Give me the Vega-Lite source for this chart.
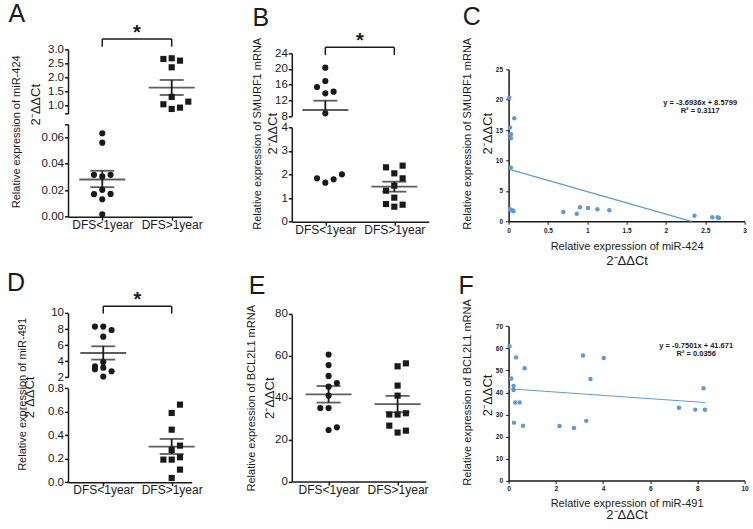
{
"$schema":"https://vega.github.io/schema/vega-lite/v6.json",
"autosize":{"type":"none"},
"padding":{"left":68,"top":49.3,"right":685,"bottom":479.7},
"config":{
 "view":{"stroke":null},
 "font":"Liberation Sans",
 "axis":{"grid":false,"domainColor":"#1a1a1a","tickColor":"#1a1a1a","labelColor":"#1a1a1a","titleColor":"#1a1a1a","labelFont":"Liberation Sans","titleFont":"Liberation Sans","titleFontWeight":"normal","labelFlush":false,"labelOverlap":false},
 "title":{"font":"Liberation Sans","fontWeight":"normal","color":"#1a1a1a"},
 "text":{"font":"Liberation Sans","color":"#1a1a1a"}
},
"datasets":{
 "A_pts":[
  {"group":"DFS<1year","v":0.0630,"slot":0},{"group":"DFS<1year","v":0.0559,"slot":0},{"group":"DFS<1year","v":0.0316,"slot":-1},{"group":"DFS<1year","v":0.0304,"slot":0},{"group":"DFS<1year","v":0.0316,"slot":1},{"group":"DFS<1year","v":0.0170,"slot":-1},{"group":"DFS<1year","v":0.0203,"slot":0},{"group":"DFS<1year","v":0.0172,"slot":1},{"group":"DFS<1year","v":0.0132,"slot":0},{"group":"DFS<1year","v":0.0018,"slot":0},
  {"group":"DFS>1year","v":2.655,"slot":-1},{"group":"DFS>1year","v":2.679,"slot":0},{"group":"DFS>1year","v":2.595,"slot":1},{"group":"DFS>1year","v":2.357,"slot":0},{"group":"DFS>1year","v":1.298,"slot":0},{"group":"DFS>1year","v":1.036,"slot":-1},{"group":"DFS>1year","v":0.869,"slot":0},{"group":"DFS>1year","v":0.917,"slot":1},{"group":"DFS>1year","v":1.131,"slot":2}
 ],
 "A_sum":[{"group":"DFS<1year","mean":0.0281,"lo":0.0223,"hi":0.0347},{"group":"DFS>1year","mean":1.631,"lo":1.369,"hi":1.905}],
 "B_pts":[
  {"group":"DFS<1year","v":20.34,"slot":0},{"group":"DFS<1year","v":16.94,"slot":0},{"group":"DFS<1year","v":15.40,"slot":-1},{"group":"DFS<1year","v":14.21,"slot":1},{"group":"DFS<1year","v":13.79,"slot":0},{"group":"DFS<1year","v":8.68,"slot":0},{"group":"DFS<1year","v":1.837,"slot":-1},{"group":"DFS<1year","v":1.654,"slot":0},{"group":"DFS<1year","v":1.795,"slot":1},{"group":"DFS<1year","v":2.007,"slot":2},
  {"group":"DFS>1year","v":2.304,"slot":-1},{"group":"DFS>1year","v":2.375,"slot":1},{"group":"DFS>1year","v":2.049,"slot":0},{"group":"DFS>1year","v":1.837,"slot":1},{"group":"DFS>1year","v":1.314,"slot":-1},{"group":"DFS>1year","v":1.527,"slot":0},{"group":"DFS>1year","v":1.018,"slot":0},{"group":"DFS>1year","v":0.749,"slot":-1},{"group":"DFS>1year","v":0.636,"slot":0},{"group":"DFS>1year","v":0.721,"slot":1}
 ],
 "B_sum":[{"group":"DFS<1year","mean":9.53,"lo":7.15,"hi":11.91},{"group":"DFS>1year","mean":1.484,"lo":1.272,"hi":1.696}],
 "D_pts":[
  {"group":"DFS<1year","v":8.30,"slot":-1},{"group":"DFS<1year","v":8.30,"slot":0},{"group":"DFS<1year","v":7.88,"slot":1},{"group":"DFS<1year","v":7.05,"slot":0},{"group":"DFS<1year","v":3.90,"slot":0},{"group":"DFS<1year","v":3.35,"slot":-1},{"group":"DFS<1year","v":3.20,"slot":0},{"group":"DFS<1year","v":3.00,"slot":-1},{"group":"DFS<1year","v":2.75,"slot":1},{"group":"DFS<1year","v":2.10,"slot":0},
  {"group":"DFS>1year","v":0.661,"slot":1},{"group":"DFS>1year","v":0.590,"slot":0},{"group":"DFS>1year","v":0.448,"slot":0},{"group":"DFS>1year","v":0.312,"slot":1},{"group":"DFS>1year","v":0.275,"slot":0},{"group":"DFS>1year","v":0.193,"slot":-1},{"group":"DFS>1year","v":0.193,"slot":0},{"group":"DFS>1year","v":0.213,"slot":1},{"group":"DFS>1year","v":0.108,"slot":1},{"group":"DFS>1year","v":0.037,"slot":0}
 ],
 "D_sum":[{"group":"DFS<1year","mean":5.02,"lo":4.2,"hi":5.85},{"group":"DFS>1year","mean":0.304,"lo":0.241,"hi":0.369}],
 "E_pts":[
  {"group":"DFS<1year","v":60.6,"slot":0},{"group":"DFS<1year","v":55.6,"slot":0},{"group":"DFS<1year","v":50.4,"slot":0},{"group":"DFS<1year","v":47.0,"slot":1},{"group":"DFS<1year","v":45.3,"slot":0},{"group":"DFS<1year","v":41.0,"slot":0},{"group":"DFS<1year","v":35.1,"slot":-1},{"group":"DFS<1year","v":35.1,"slot":0},{"group":"DFS<1year","v":24.6,"slot":0},{"group":"DFS<1year","v":25.9,"slot":1},
  {"group":"DFS>1year","v":55.0,"slot":0},{"group":"DFS>1year","v":56.4,"slot":1},{"group":"DFS>1year","v":45.8,"slot":0},{"group":"DFS>1year","v":41.0,"slot":0},{"group":"DFS>1year","v":32.0,"slot":-1},{"group":"DFS>1year","v":32.0,"slot":0},{"group":"DFS>1year","v":32.6,"slot":1},{"group":"DFS>1year","v":26.7,"slot":-1},{"group":"DFS>1year","v":23.4,"slot":0},{"group":"DFS>1year","v":24.3,"slot":1}
 ],
 "E_sum":[{"group":"DFS<1year","mean":41.65,"lo":37.7,"hi":45.6},{"group":"DFS>1year","mean":37.0,"lo":33.1,"hi":40.9}],
 "pair":[{"group":"DFS<1year","group2":"DFS>1year"}],
 "C_pts":[{"mir":0.008,"smurf":20.34},{"mir":0.072,"smurf":16.94},{"mir":0.017,"smurf":15.41},{"mir":0.030,"smurf":14.31},{"mir":0.030,"smurf":13.65},{"mir":0.030,"smurf":8.83},{"mir":0.018,"smurf":2.0},{"mir":0.032,"smurf":1.84},{"mir":0.045,"smurf":1.80},{"mir":0.062,"smurf":1.65},{"mir":0.696,"smurf":1.54},{"mir":0.866,"smurf":1.26},{"mir":0.908,"smurf":2.30},{"mir":1.010,"smurf":2.19},{"mir":1.128,"smurf":1.97},{"mir":1.280,"smurf":1.81},{"mir":2.363,"smurf":0.93},{"mir":2.588,"smurf":0.66},{"mir":2.656,"smurf":0.66},{"mir":2.673,"smurf":0.55}],
 "F_pts":[{"mir":0.04,"bcl":60.9},{"mir":0.32,"bcl":55.9},{"mir":0.68,"bcl":51.0},{"mir":0.11,"bcl":46.3},{"mir":0.21,"bcl":42.9},{"mir":0.21,"bcl":41.1},{"mir":0.28,"bcl":35.4},{"mir":0.47,"bcl":35.4},{"mir":0.23,"bcl":26.3},{"mir":0.61,"bcl":24.9},{"mir":2.16,"bcl":24.8},{"mir":2.77,"bcl":23.9},{"mir":3.15,"bcl":56.8},{"mir":3.29,"bcl":27.1},{"mir":3.47,"bcl":46.1},{"mir":4.03,"bcl":55.6},{"mir":7.22,"bcl":33.0},{"mir":7.91,"bcl":32.2},{"mir":8.26,"bcl":41.9},{"mir":8.32,"bcl":32.1}]
},
"columns":3,
"align":"each",
"bounds":"flush",
"spacing":{"row":90.6,"column":79.8},
"concat":[
 {"title":{"text":"A","anchor":"start","frame":"bounds","fontSize":25,"offset":-4,"dx":-2},
  "width":143.7,"height":167.4,
  "encoding":{"x":{"field":"group","type":"nominal","scale":{"type":"point","domain":["DFS<1year","DFS>1year"],"range":[0,124],"padding":0.393,"align":0.628},"axis":{"title":null,"labelAngle":0,"labelFontSize":12,"labelPadding":-1,"tickSize":3.5,"tickWidth":1.5,"domainWidth":1.5}}},
  "resolve":{"scale":{"y":"independent"},"axis":{"y":"independent"}},
  "layer":[
    {"data":{"name":"A_pts"},"transform":[{"filter":"datum.v <= 0.07"}],"mark":{"type":"point","filled":true,"opacity":1,"color":"#1a1a1a","size":38,"strokeWidth":0},
     "encoding":{"y":{"field":"v","type":"quantitative","scale":{"domain":[0,0.07],"range":[167.4,74.7],"nice":false,"zero":false},"axis":{"orient":"left","values":[0,0.02,0.04,0.06,0.07],"labelExpr":"datum.value > 0.065 ? '' : format(datum.value, '.2f')","title":"Relative expression of miR-424","titleFontSize":11,"titleY":82,"titlePadding":19.5,"labelFontSize":11.5,"tickSize":3.5,"tickWidth":1.5,"domainWidth":1.5,"labelPadding":1}},
      "xOffset":{"field":"slot","type":"quantitative","scale":{"domain":[-2,2],"range":[-16.6,16.6]}},
      "shape":{"field":"group","type":"nominal","scale":{"domain":["DFS<1year","DFS>1year"],"range":["circle","square"]},"legend":null}}},
    {"data":{"name":"A_sum"},"transform":[{"filter":"datum.mean <= 0.07"}],"mark":{"type":"tick","orient":"horizontal","size":46,"thickness":1.8,"color":"#1a1a1a"},"encoding":{"y":{"field":"mean","type":"quantitative","scale":{"domain":[0,0.07],"range":[167.4,74.7],"nice":false,"zero":false},"axis":null}}},
    {"data":{"name":"A_sum"},"transform":[{"filter":"datum.mean <= 0.07"}],"mark":{"type":"tick","orient":"horizontal","size":24,"thickness":1.8,"color":"#1a1a1a"},"encoding":{"y":{"field":"lo","type":"quantitative","scale":{"domain":[0,0.07],"range":[167.4,74.7],"nice":false,"zero":false},"axis":null}}},
    {"data":{"name":"A_sum"},"transform":[{"filter":"datum.mean <= 0.07"}],"mark":{"type":"tick","orient":"horizontal","size":24,"thickness":1.8,"color":"#1a1a1a"},"encoding":{"y":{"field":"hi","type":"quantitative","scale":{"domain":[0,0.07],"range":[167.4,74.7],"nice":false,"zero":false},"axis":null}}},
    {"data":{"name":"A_sum"},"transform":[{"filter":"datum.mean <= 0.07"}],"mark":{"type":"rule","strokeWidth":1.8,"color":"#1a1a1a"},"encoding":{"y":{"field":"lo","type":"quantitative","scale":{"domain":[0,0.07],"range":[167.4,74.7],"nice":false,"zero":false},"axis":null},"y2":{"field":"hi"}}},
    {"data":{"name":"A_pts"},"transform":[{"filter":"datum.v >= 0.7"}],"mark":{"type":"point","filled":true,"opacity":1,"color":"#1a1a1a","size":38,"strokeWidth":0},
     "encoding":{"y":{"field":"v","type":"quantitative","scale":{"domain":[0.7,3.0],"range":[64.4,0],"nice":false,"zero":false},"axis":{"orient":"left","values":[0.7,1,1.5,2,2.5,3],"labelExpr":"datum.value < 0.8 ? '' : format(datum.value, '.1f')","title":"2⁻ΔΔCt","titleFontSize":13,"titleY":55,"titlePadding":5,"labelFontSize":11.5,"tickSize":3.5,"tickWidth":1.5,"domainWidth":1.5,"labelPadding":1}},
      "xOffset":{"field":"slot","type":"quantitative","scale":{"domain":[-2,2],"range":[-16.6,16.6]}},
      "shape":{"field":"group","type":"nominal","scale":{"domain":["DFS<1year","DFS>1year"],"range":["circle","square"]},"legend":null}}},
    {"data":{"name":"A_sum"},"transform":[{"filter":"datum.mean >= 0.7"}],"mark":{"type":"tick","orient":"horizontal","size":46,"thickness":1.8,"color":"#1a1a1a"},"encoding":{"y":{"field":"mean","type":"quantitative","scale":{"domain":[0.7,3.0],"range":[64.4,0],"nice":false,"zero":false},"axis":null}}},
    {"data":{"name":"A_sum"},"transform":[{"filter":"datum.mean >= 0.7"}],"mark":{"type":"tick","orient":"horizontal","size":24,"thickness":1.8,"color":"#1a1a1a"},"encoding":{"y":{"field":"lo","type":"quantitative","scale":{"domain":[0.7,3.0],"range":[64.4,0],"nice":false,"zero":false},"axis":null}}},
    {"data":{"name":"A_sum"},"transform":[{"filter":"datum.mean >= 0.7"}],"mark":{"type":"tick","orient":"horizontal","size":24,"thickness":1.8,"color":"#1a1a1a"},"encoding":{"y":{"field":"hi","type":"quantitative","scale":{"domain":[0.7,3.0],"range":[64.4,0],"nice":false,"zero":false},"axis":null}}},
    {"data":{"name":"A_sum"},"transform":[{"filter":"datum.mean >= 0.7"}],"mark":{"type":"rule","strokeWidth":1.8,"color":"#1a1a1a"},"encoding":{"y":{"field":"lo","type":"quantitative","scale":{"domain":[0.7,3.0],"range":[64.4,0],"nice":false,"zero":false},"axis":null},"y2":{"field":"hi"}}},
    {"data":{"name":"A_sum"},"mark":{"type":"rule","strokeWidth":1.5,"color":"#1a1a1a"},"encoding":{"y":{"datum":3.368,"type":"quantitative","scale":{"domain":[0.7,3.0],"range":[64.4,0],"nice":false,"zero":false},"axis":null},"y2":{"datum":3.093}}},
    {"data":{"name":"pair"},"mark":{"type":"rule","strokeWidth":1.5,"color":"#1a1a1a"},"encoding":{"x2":{"field":"group2"},"y":{"datum":3.368,"type":"quantitative","scale":{"domain":[0.7,3.0],"range":[64.4,0],"nice":false,"zero":false},"axis":null}}},
    {"data":{"name":"pair"},"mark":{"type":"text","text":"*","fontSize":20,"fontWeight":"bold","dx":34.7,"baseline":"alphabetic","align":"center","color":"#1a1a1a"},"encoding":{"y":{"datum":3.368,"type":"quantitative","scale":{"domain":[0.7,3.0],"range":[64.4,0],"nice":false,"zero":false},"axis":null}}}
  ]
 },
 {"title":{"text":"B","anchor":"start","frame":"bounds","fontSize":25,"offset":0,"dx":1},
  "width":137,"height":172.4,
  "encoding":{"x":{"field":"group","type":"nominal","scale":{"type":"point","domain":["DFS<1year","DFS>1year"],"range":[0,137],"padding":0.493,"align":0.493},"axis":{"title":null,"labelAngle":0,"labelFontSize":12,"labelPadding":-1,"tickSize":3.5,"tickWidth":1.5,"domainWidth":1.5}}},
  "resolve":{"scale":{"y":"independent"},"axis":{"y":"independent"}},
  "layer":[
    {"data":{"name":"B_pts"},"transform":[{"filter":"datum.v <= 4"}],"mark":{"type":"point","filled":true,"opacity":1,"color":"#1a1a1a","size":38,"strokeWidth":0},
     "encoding":{"y":{"field":"v","type":"quantitative","scale":{"domain":[0,4],"range":[172.4,78],"nice":false,"zero":false},"axis":{"orient":"left","values":[0,1,2,3,4],"format":"d","title":"2⁻ΔΔCt","titleFontSize":13,"titleY":84,"titlePadding":1,"labelFontSize":11.5,"tickSize":3.5,"tickWidth":1.5,"domainWidth":1.5,"labelPadding":1}},
      "xOffset":{"field":"slot","type":"quantitative","scale":{"domain":[-2,2],"range":[-16.6,16.6]}},
      "shape":{"field":"group","type":"nominal","scale":{"domain":["DFS<1year","DFS>1year"],"range":["circle","square"]},"legend":null}}},
    {"data":{"name":"B_sum"},"transform":[{"filter":"datum.mean <= 4"}],"mark":{"type":"tick","orient":"horizontal","size":46,"thickness":1.8,"color":"#1a1a1a"},"encoding":{"y":{"field":"mean","type":"quantitative","scale":{"domain":[0,4],"range":[172.4,78],"nice":false,"zero":false},"axis":null}}},
    {"data":{"name":"B_sum"},"transform":[{"filter":"datum.mean <= 4"}],"mark":{"type":"tick","orient":"horizontal","size":24,"thickness":1.8,"color":"#1a1a1a"},"encoding":{"y":{"field":"lo","type":"quantitative","scale":{"domain":[0,4],"range":[172.4,78],"nice":false,"zero":false},"axis":null}}},
    {"data":{"name":"B_sum"},"transform":[{"filter":"datum.mean <= 4"}],"mark":{"type":"tick","orient":"horizontal","size":24,"thickness":1.8,"color":"#1a1a1a"},"encoding":{"y":{"field":"hi","type":"quantitative","scale":{"domain":[0,4],"range":[172.4,78],"nice":false,"zero":false},"axis":null}}},
    {"data":{"name":"B_sum"},"transform":[{"filter":"datum.mean <= 4"}],"mark":{"type":"rule","strokeWidth":1.8,"color":"#1a1a1a"},"encoding":{"y":{"field":"lo","type":"quantitative","scale":{"domain":[0,4],"range":[172.4,78],"nice":false,"zero":false},"axis":null},"y2":{"field":"hi"}}},
    {"data":{"name":"B_pts"},"transform":[{"filter":"datum.v >= 8"}],"mark":{"type":"point","filled":true,"opacity":1,"color":"#1a1a1a","size":38,"strokeWidth":0},
     "encoding":{"y":{"field":"v","type":"quantitative","scale":{"domain":[8,24],"range":[66.7,4],"nice":false,"zero":false},"axis":{"orient":"left","values":[8,12,16,20,24],"format":"d","title":"Relative expression of SMURF1 mRNA","titleFontSize":11,"titleY":84,"titlePadding":12,"labelFontSize":11.5,"tickSize":3.5,"tickWidth":1.5,"domainWidth":1.5,"labelPadding":1}},
      "xOffset":{"field":"slot","type":"quantitative","scale":{"domain":[-2,2],"range":[-16.6,16.6]}},
      "shape":{"field":"group","type":"nominal","scale":{"domain":["DFS<1year","DFS>1year"],"range":["circle","square"]},"legend":null}}},
    {"data":{"name":"B_sum"},"transform":[{"filter":"datum.mean >= 8"}],"mark":{"type":"tick","orient":"horizontal","size":46,"thickness":1.8,"color":"#1a1a1a"},"encoding":{"y":{"field":"mean","type":"quantitative","scale":{"domain":[8,24],"range":[66.7,4],"nice":false,"zero":false},"axis":null}}},
    {"data":{"name":"B_sum"},"transform":[{"filter":"datum.lo >= 8"}],"mark":{"type":"tick","orient":"horizontal","size":24,"thickness":1.8,"color":"#1a1a1a"},"encoding":{"y":{"field":"lo","type":"quantitative","scale":{"domain":[8,24],"range":[66.7,4],"nice":false,"zero":false},"axis":null}}},
    {"data":{"name":"B_sum"},"transform":[{"filter":"datum.mean >= 8"}],"mark":{"type":"tick","orient":"horizontal","size":24,"thickness":1.8,"color":"#1a1a1a"},"encoding":{"y":{"field":"hi","type":"quantitative","scale":{"domain":[8,24],"range":[66.7,4],"nice":false,"zero":false},"axis":null}}},
    {"data":{"name":"B_sum"},"transform":[{"filter":"datum.mean >= 8"}],"mark":{"type":"rule","strokeWidth":1.8,"color":"#1a1a1a"},"encoding":{"y":{"field":"mean","type":"quantitative","scale":{"domain":[8,24],"range":[66.7,4],"nice":false,"zero":false},"axis":null},"y2":{"field":"hi"}}},
    {"data":{"name":"B_sum"},"mark":{"type":"rule","strokeWidth":1.5,"color":"#1a1a1a"},"encoding":{"y":{"datum":25.53,"type":"quantitative","scale":{"domain":[8,24],"range":[66.7,4],"nice":false,"zero":false},"axis":null},"y2":{"datum":23.57}}},
    {"data":{"name":"pair"},"mark":{"type":"rule","strokeWidth":1.5,"color":"#1a1a1a"},"encoding":{"x2":{"field":"group2"},"y":{"datum":25.53,"type":"quantitative","scale":{"domain":[8,24],"range":[66.7,4],"nice":false,"zero":false},"axis":null}}},
    {"data":{"name":"pair"},"mark":{"type":"text","text":"*","fontSize":20,"fontWeight":"bold","dx":34.5,"baseline":"alphabetic","align":"center","color":"#1a1a1a"},"encoding":{"y":{"datum":25.53,"type":"quantitative","scale":{"domain":[8,24],"range":[66.7,4],"nice":false,"zero":false},"axis":null}}}
  ]
 },
 {"width":236,"height":172,
  "resolve":{"scale":{"x":"independent","y":"independent"},"axis":{"x":"independent","y":"independent"}},
  "layer":[
    {"data":{"name":"C_pts"},"mark":{"type":"point","filled":true,"opacity":1,"color":"#5b9bd5","size":20,"strokeWidth":0},
     "encoding":{
      "x":{"field":"mir","type":"quantitative","scale":{"domain":[0,3],"nice":false,"zero":false},"axis":{"orient":"bottom","values":[0,0.5,1,1.5,2,2.5,3],"format":"~g","labelFontSize":6.5,"labelFontWeight":"bold","tickSize":3,"tickWidth":1,"domainWidth":1.5,"labelPadding":3,"title":"Relative expression of miR-424","titleFontSize":11,"titlePadding":7}},
      "y":{"field":"smurf","type":"quantitative","scale":{"domain":[0,25],"range":[172,20],"nice":false,"zero":false},"axis":{"orient":"left","values":[0,5,10,15,20,25],"labelFontSize":6.5,"labelFontWeight":"bold","tickSize":3,"tickWidth":1,"domainWidth":1.5,"labelPadding":3,"title":"2⁻ΔΔCt","titleFontSize":13,"titlePadding":1,"titleY":84}}}},
    {"data":{"values":[{}]},"mark":{"type":"rule","color":"#5b9bd5","strokeWidth":1.2},"encoding":{"x":{"datum":0,"type":"quantitative","scale":{"domain":[0,3],"nice":false,"zero":false},"axis":null},"x2":{"datum":2.3229},"y":{"datum":8.5799,"type":"quantitative","scale":{"domain":[0,25],"range":[172,20],"nice":false,"zero":false},"axis":null},"y2":{"datum":0}}},
    {"data":{"values":[{}]},"mark":{"type":"text","text":["y = -3.6936x + 8.5799","R² = 0.3117"],"fontSize":7.5,"fontWeight":"bold","lineHeight":8.3,"align":"center","baseline":"middle","color":"#1a1a1a"},
     "encoding":{
      "x":{"datum":2.435,"type":"quantitative","scale":{"domain":[0,3],"nice":false,"zero":false},"axis":{"orient":"bottom","domain":false,"ticks":false,"labels":false,"title":"2⁻ΔΔCt","titleFontSize":13,"titlePadding":33}},
      "y":{"datum":19.43,"type":"quantitative","scale":{"domain":[0,25],"range":[172,20],"nice":false,"zero":false},"axis":{"orient":"left","domain":false,"ticks":false,"labels":false,"title":"Relative expression of SMURF1 mRNA","titleFontSize":11,"titlePadding":36,"titleY":84}}}},
    {"data":{"values":[{}]},"mark":{"type":"text","text":"C","fontSize":25,"align":"center","baseline":"alphabetic","color":"#1a1a1a"},
     "encoding":{
      "x":{"datum":-0.468,"type":"quantitative","scale":{"domain":[0,3],"nice":false,"zero":false},"axis":null},
      "y":{"datum":32.29,"type":"quantitative","scale":{"domain":[0,25],"range":[172,20],"nice":false,"zero":false},"axis":null}}}
  ]
 },
 {"title":{"text":"D","anchor":"start","frame":"bounds","fontSize":25,"offset":-6,"dx":-9},
  "width":143.7,"height":169.4,
  "encoding":{"x":{"field":"group","type":"nominal","scale":{"type":"point","domain":["DFS<1year","DFS>1year"],"range":[0,123.7],"padding":0.404,"align":0.638},"axis":{"title":null,"labelAngle":0,"labelFontSize":12,"labelPadding":-1,"tickSize":3.5,"tickWidth":1.5,"domainWidth":1.5}}},
  "resolve":{"scale":{"y":"independent"},"axis":{"y":"independent"}},
  "layer":[
    {"data":{"name":"D_pts"},"transform":[{"filter":"datum.v <= 0.8"}],"mark":{"type":"point","filled":true,"opacity":1,"color":"#1a1a1a","size":38,"strokeWidth":0},
     "encoding":{"y":{"field":"v","type":"quantitative","scale":{"domain":[0,0.8],"range":[169.4,75.4],"nice":false,"zero":false},"axis":{"orient":"left","values":[0,0.2,0.4,0.6,0.8],"format":".1f","title":"2⁻ΔΔCt","titleFontSize":13,"titleY":84,"titlePadding":11.5,"labelFontSize":11.5,"tickSize":3.5,"tickWidth":1.5,"domainWidth":1.5,"labelPadding":1}},
      "xOffset":{"field":"slot","type":"quantitative","scale":{"domain":[-2,2],"range":[-16.6,16.6]}},
      "shape":{"field":"group","type":"nominal","scale":{"domain":["DFS<1year","DFS>1year"],"range":["circle","square"]},"legend":null}}},
    {"data":{"name":"D_sum"},"transform":[{"filter":"datum.mean <= 0.8"}],"mark":{"type":"tick","orient":"horizontal","size":46,"thickness":1.8,"color":"#1a1a1a"},"encoding":{"y":{"field":"mean","type":"quantitative","scale":{"domain":[0,0.8],"range":[169.4,75.4],"nice":false,"zero":false},"axis":null}}},
    {"data":{"name":"D_sum"},"transform":[{"filter":"datum.mean <= 0.8"}],"mark":{"type":"tick","orient":"horizontal","size":24,"thickness":1.8,"color":"#1a1a1a"},"encoding":{"y":{"field":"lo","type":"quantitative","scale":{"domain":[0,0.8],"range":[169.4,75.4],"nice":false,"zero":false},"axis":null}}},
    {"data":{"name":"D_sum"},"transform":[{"filter":"datum.mean <= 0.8"}],"mark":{"type":"tick","orient":"horizontal","size":24,"thickness":1.8,"color":"#1a1a1a"},"encoding":{"y":{"field":"hi","type":"quantitative","scale":{"domain":[0,0.8],"range":[169.4,75.4],"nice":false,"zero":false},"axis":null}}},
    {"data":{"name":"D_sum"},"transform":[{"filter":"datum.mean <= 0.8"}],"mark":{"type":"rule","strokeWidth":1.8,"color":"#1a1a1a"},"encoding":{"y":{"field":"lo","type":"quantitative","scale":{"domain":[0,0.8],"range":[169.4,75.4],"nice":false,"zero":false},"axis":null},"y2":{"field":"hi"}}},
    {"data":{"name":"D_pts"},"transform":[{"filter":"datum.v >= 2"}],"mark":{"type":"point","filled":true,"opacity":1,"color":"#1a1a1a","size":38,"strokeWidth":0},
     "encoding":{"y":{"field":"v","type":"quantitative","scale":{"domain":[2,10],"range":[64.4,0],"nice":false,"zero":false},"axis":{"orient":"left","values":[2,4,6,8,10],"format":"d","title":"Relative expression of miR-491","titleFontSize":11,"titleY":81,"titlePadding":23.7,"labelFontSize":11.5,"tickSize":3.5,"tickWidth":1.5,"domainWidth":1.5,"labelPadding":1}},
      "xOffset":{"field":"slot","type":"quantitative","scale":{"domain":[-2,2],"range":[-16.6,16.6]}},
      "shape":{"field":"group","type":"nominal","scale":{"domain":["DFS<1year","DFS>1year"],"range":["circle","square"]},"legend":null}}},
    {"data":{"name":"D_sum"},"transform":[{"filter":"datum.mean >= 2"}],"mark":{"type":"tick","orient":"horizontal","size":46,"thickness":1.8,"color":"#1a1a1a"},"encoding":{"y":{"field":"mean","type":"quantitative","scale":{"domain":[2,10],"range":[64.4,0],"nice":false,"zero":false},"axis":null}}},
    {"data":{"name":"D_sum"},"transform":[{"filter":"datum.mean >= 2"}],"mark":{"type":"tick","orient":"horizontal","size":24,"thickness":1.8,"color":"#1a1a1a"},"encoding":{"y":{"field":"lo","type":"quantitative","scale":{"domain":[2,10],"range":[64.4,0],"nice":false,"zero":false},"axis":null}}},
    {"data":{"name":"D_sum"},"transform":[{"filter":"datum.mean >= 2"}],"mark":{"type":"tick","orient":"horizontal","size":24,"thickness":1.8,"color":"#1a1a1a"},"encoding":{"y":{"field":"hi","type":"quantitative","scale":{"domain":[2,10],"range":[64.4,0],"nice":false,"zero":false},"axis":null}}},
    {"data":{"name":"D_sum"},"transform":[{"filter":"datum.mean >= 2"}],"mark":{"type":"rule","strokeWidth":1.8,"color":"#1a1a1a"},"encoding":{"y":{"field":"lo","type":"quantitative","scale":{"domain":[2,10],"range":[64.4,0],"nice":false,"zero":false},"axis":null},"y2":{"field":"hi"}}},
    {"data":{"name":"D_sum"},"mark":{"type":"rule","strokeWidth":1.5,"color":"#1a1a1a"},"encoding":{"y":{"datum":10.82,"type":"quantitative","scale":{"domain":[2,10],"range":[64.4,0],"nice":false,"zero":false},"axis":null},"y2":{"datum":9.91}}},
    {"data":{"name":"pair"},"mark":{"type":"rule","strokeWidth":1.5,"color":"#1a1a1a"},"encoding":{"x2":{"field":"group2"},"y":{"datum":10.82,"type":"quantitative","scale":{"domain":[2,10],"range":[64.4,0],"nice":false,"zero":false},"axis":null}}},
    {"data":{"name":"pair"},"mark":{"type":"text","text":"*","fontSize":20,"fontWeight":"bold","dx":34.2,"baseline":"alphabetic","align":"center","color":"#1a1a1a"},"encoding":{"y":{"datum":10.82,"type":"quantitative","scale":{"domain":[2,10],"range":[64.4,0],"nice":false,"zero":false},"axis":null}}}
  ]
 },
 {"title":{"text":"E","anchor":"start","frame":"bounds","fontSize":25,"offset":6,"dx":3},
  "width":137,"height":168.7,
  "encoding":{"x":{"field":"group","type":"nominal","scale":{"type":"point","domain":["DFS<1year","DFS>1year"],"range":[0,134],"padding":0.471,"align":0.566},"axis":{"title":null,"labelAngle":0,"labelFontSize":12,"labelPadding":-1,"tickSize":3.5,"tickWidth":1.5,"domainWidth":1.5}}},
  "resolve":{"scale":{"y":"independent"},"axis":{"y":"independent"}},
  "layer":[
   {"data":{"name":"E_pts"},"mark":{"type":"point","filled":true,"opacity":1,"color":"#1a1a1a","size":38,"strokeWidth":0},
    "encoding":{"y":{"field":"v","type":"quantitative","scale":{"domain":[0,80],"range":[168.7,1],"nice":false,"zero":false},"axis":{"orient":"left","values":[0,20,40,60,80],"format":"d","title":"2⁻ΔΔCt","titleFontSize":13,"titlePadding":-2,"labelFontSize":11.5,"tickSize":3.5,"tickWidth":1.5,"domainWidth":1.5,"labelPadding":1}},
     "xOffset":{"field":"slot","type":"quantitative","scale":{"domain":[-2,2],"range":[-16.6,16.6]}},
     "shape":{"field":"group","type":"nominal","scale":{"domain":["DFS<1year","DFS>1year"],"range":["circle","square"]},"legend":null}}},
   {"data":{"name":"E_sum"},"mark":{"type":"tick","orient":"horizontal","size":46,"thickness":1.8,"color":"#1a1a1a"},"encoding":{"y":{"field":"mean","type":"quantitative","scale":{"domain":[0,80],"range":[168.7,1],"nice":false,"zero":false},"axis":{"orient":"left","domain":false,"ticks":false,"labels":false,"title":"Relative expression of BCL2L1 mRNA","titleFontSize":11,"titlePadding":35}}}},
   {"data":{"name":"E_sum"},"mark":{"type":"tick","orient":"horizontal","size":24,"thickness":1.8,"color":"#1a1a1a"},"encoding":{"y":{"field":"lo","type":"quantitative","scale":{"domain":[0,80],"range":[168.7,1],"nice":false,"zero":false},"axis":null}}},
   {"data":{"name":"E_sum"},"mark":{"type":"tick","orient":"horizontal","size":24,"thickness":1.8,"color":"#1a1a1a"},"encoding":{"y":{"field":"hi","type":"quantitative","scale":{"domain":[0,80],"range":[168.7,1],"nice":false,"zero":false},"axis":null}}},
   {"data":{"name":"E_sum"},"mark":{"type":"rule","strokeWidth":1.8,"color":"#1a1a1a"},"encoding":{"y":{"field":"lo","type":"quantitative","scale":{"domain":[0,80],"range":[168.7,1],"nice":false,"zero":false},"axis":null},"y2":{"field":"hi"}}}
  ]
 },
 {"title":{"text":"F","anchor":"start","frame":"bounds","fontSize":25,"offset":0,"dx":-3},
  "width":236,"height":167.7,
  "resolve":{"scale":{"x":"independent","y":"independent"},"axis":{"x":"independent","y":"independent"}},
  "layer":[
    {"data":{"name":"F_pts"},"mark":{"type":"point","filled":true,"opacity":1,"color":"#5b9bd5","size":20,"strokeWidth":0},
     "encoding":{
      "x":{"field":"mir","type":"quantitative","scale":{"domain":[0,10],"nice":false,"zero":false},"axis":{"orient":"bottom","values":[0,2,4,6,8,10],"format":"d","labelFontSize":6.5,"labelFontWeight":"bold","tickSize":3,"tickWidth":1,"domainWidth":1.5,"labelPadding":2,"title":"Relative expression of miR-491","titleFontSize":11,"titlePadding":5}},
      "y":{"field":"bcl","type":"quantitative","scale":{"domain":[0,70],"range":[167.7,13.4],"nice":false,"zero":false},"axis":{"orient":"left","values":[0,10,20,30,40,50,60,70],"format":"d","labelFontSize":6.5,"labelFontWeight":"bold","tickSize":3,"tickWidth":1,"domainWidth":1.5,"labelPadding":3,"title":"2⁻ΔΔCt","titleFontSize":13,"titlePadding":1,"titleY":82}}}},
    {"data":{"values":[{}]},"mark":{"type":"rule","color":"#5b9bd5","strokeWidth":1.2},"encoding":{"x":{"datum":0,"type":"quantitative","scale":{"domain":[0,10],"nice":false,"zero":false},"axis":null},"x2":{"datum":8.32},"y":{"datum":41.671,"type":"quantitative","scale":{"domain":[0,70],"range":[167.7,13.4],"nice":false,"zero":false},"axis":null},"y2":{"datum":35.43}}},
    {"data":{"values":[{}]},"mark":{"type":"text","text":["y = -0.7501x + 41.671","R² = 0.0356"],"fontSize":7.5,"fontWeight":"bold","lineHeight":8.3,"align":"center","baseline":"middle","color":"#1a1a1a"},
     "encoding":{
      "x":{"datum":7.95,"type":"quantitative","scale":{"domain":[0,10],"nice":false,"zero":false},"axis":{"orient":"bottom","domain":false,"ticks":false,"labels":false,"title":"2⁻ΔΔCt","titleFontSize":13,"titlePadding":28}},
      "y":{"datum":61.15,"type":"quantitative","scale":{"domain":[0,70],"range":[167.7,13.4],"nice":false,"zero":false},"axis":{"orient":"left","domain":false,"ticks":false,"labels":false,"title":"Relative expression of BCL2L1 mRNA","titleFontSize":11,"titlePadding":36,"titleY":79}}}}
  ]
 }
]
}
